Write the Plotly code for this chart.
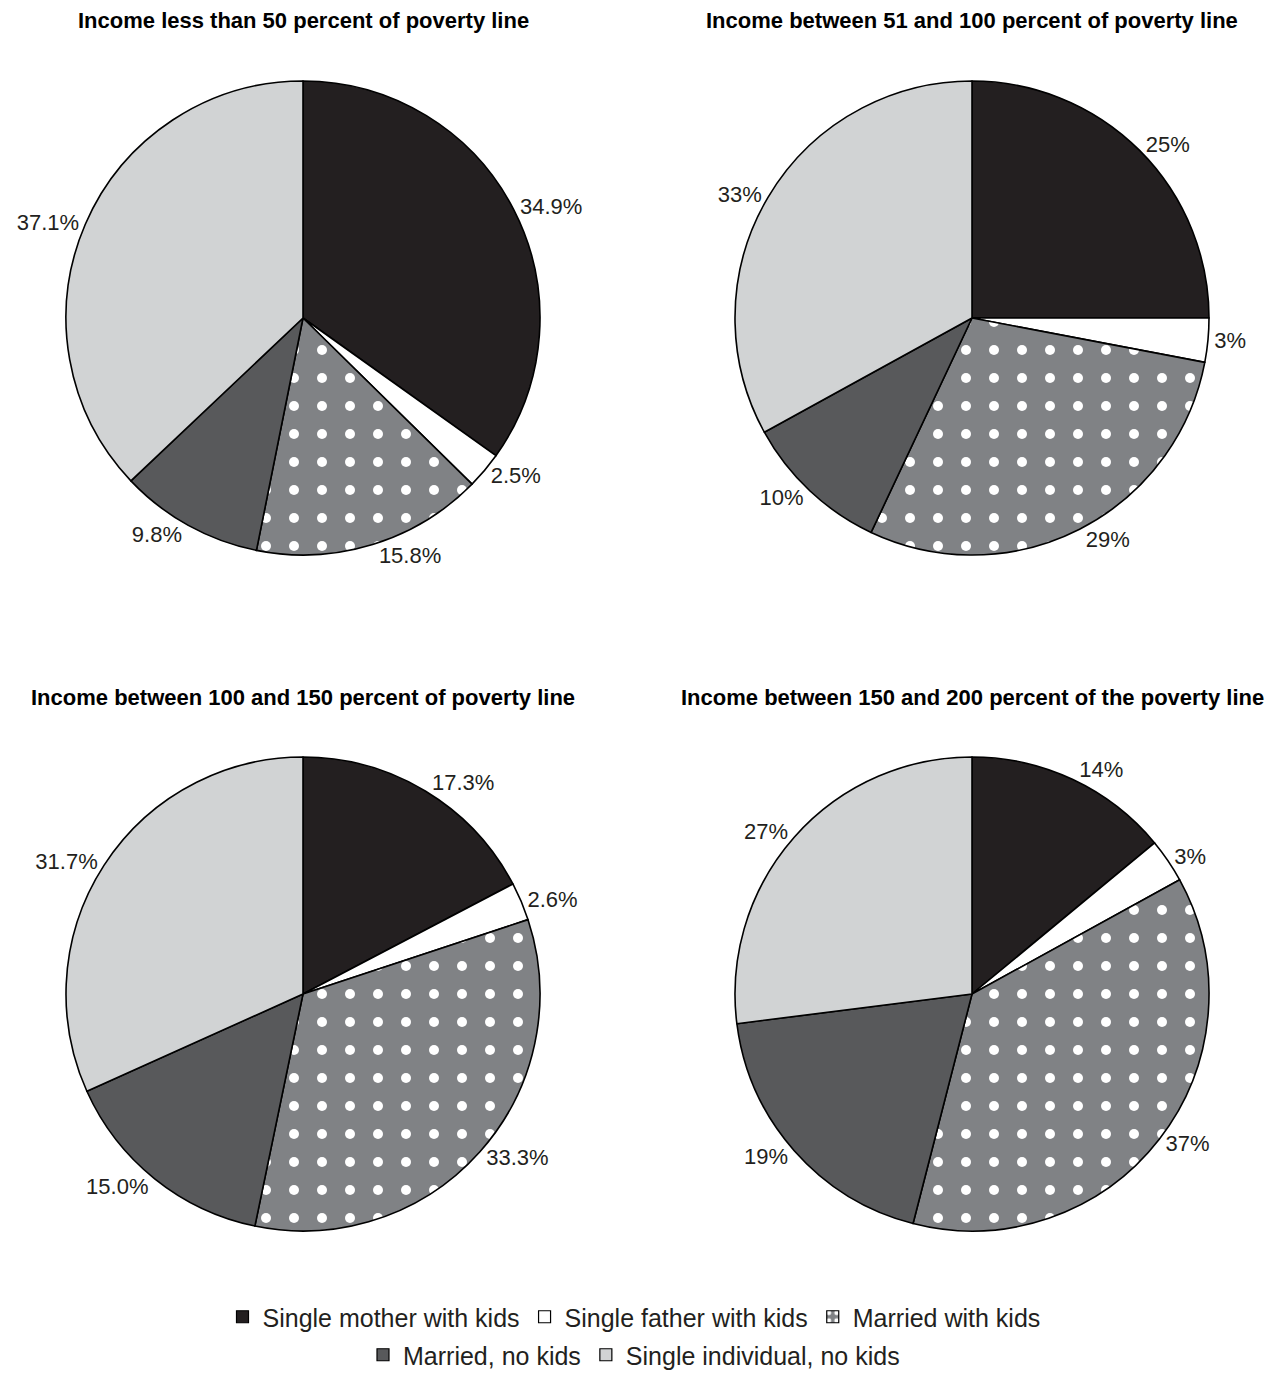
import plotly.graph_objects as go

W, H = 1268, 1378

categories = ["Single mother with kids", "Single father with kids", "Married with kids",
              "Married, no kids", "Single individual, no kids"]
titles = ["Income less than 50 percent of poverty line",
          "Income between 51 and 100 percent of poverty line",
          "Income between 100 and 150 percent of poverty line",
          "Income between 150 and 200 percent of the poverty line"]
vals_lt50 = [34.9, 2.5, 15.8, 9.8, 37.1]
vals_51_100 = [25, 3, 29, 10, 33]
vals_100_150 = [17.3, 2.6, 33.3, 15.0, 31.7]
vals_150_200 = [14, 3, 37, 19, 27]
labels_lt50 = ["34.9%", "2.5%", "15.8%", "9.8%", "37.1%"]
labels_51_100 = ["25%", "3%", "29%", "10%", "33%"]
labels_100_150 = ["17.3%", "2.6%", "33.3%", "15.0%", "31.7%"]
labels_150_200 = ["14%", "3%", "37%", "19%", "27%"]

colors = ["#231f20", "#ffffff", "#808285", "#58595b", "#d1d3d4"]
shapes = ["", "", ".", "", ""]
FONT = "Arial, Liberation Sans, sans-serif"

centers = [(303, 318), (972, 318), (303, 994), (972, 994)]
R = 237
series = [(vals_lt50, labels_lt50), (vals_51_100, labels_51_100),
          (vals_100_150, labels_100_150), (vals_150_200, labels_150_200)]


def dom(cx, cy, r):
    return dict(x=[(cx - r) / W, (cx + r) / W], y=[1 - (cy + r) / H, 1 - (cy - r) / H])


def pattern():
    return dict(shape=shapes, bgcolor=colors, fgcolor=["#ffffff"] * 5,
                fgopacity=1, size=28, solidity=0.1)


fig = go.Figure()

# legend-only helper pies (tiny, hidden under pie centre)
cx0, cy0 = centers[0]
tiny = dict(x=[cx0 / W, (cx0 + 0.1) / W], y=[1 - (cy0 + 0.1) / H, 1 - cy0 / H])
fig.add_trace(go.Pie(labels=categories[:3], values=[1, 1, 1], sort=False, direction="clockwise",
                     marker=dict(colors=colors[:3], line=dict(color="#000000", width=1.2),
                                 pattern=dict(shape=shapes[:3], bgcolor=colors[:3],
                                              fgcolor=["#ffffff"] * 3, fgopacity=1, size=8, solidity=0.3)),
                     textinfo="none", hoverinfo="skip", domain=tiny, legend="legend", showlegend=True))
fig.add_trace(go.Pie(labels=categories[3:], values=[1, 1], sort=False, direction="clockwise",
                     marker=dict(colors=colors[3:], line=dict(color="#000000", width=1.2)),
                     textinfo="none", hoverinfo="skip", domain=tiny, legend="legend2", showlegend=True))

for (vals, labs), (cx, cy) in zip(series, centers):
    fig.add_trace(go.Pie(
        labels=categories, values=vals, text=labs, texttemplate="%{text}",
        textposition="outside", sort=False, direction="clockwise", rotation=0,
        marker=dict(colors=colors, line=dict(color="#000000", width=1.6), pattern=pattern()),
        outsidetextfont=dict(family=FONT, size=22, color="#231f20"),
        domain=dom(cx, cy, R), showlegend=False, hoverinfo="label+text"))

for t, (cx, cy) in zip(titles, centers):
    fig.add_annotation(text="<b>" + t + "</b>", x=cx / W, y=1 - (21 if cy < 600 else 697) / H,
                       xref="paper", yref="paper", showarrow=False, xanchor="center", yanchor="middle",
                       font=dict(family=FONT, size=22, color="#000000"))

fig.update_layout(
    width=W, height=H, margin=dict(l=0, r=0, t=0, b=0),
    paper_bgcolor="white", plot_bgcolor="white",
    font=dict(family=FONT, color="#231f20"),
    legend=dict(orientation="h", x=0.5, xanchor="center", y=1 - 1317 / H, yanchor="middle",
                font=dict(family=FONT, size=25, color="#231f20"), itemclick=False, itemdoubleclick=False),
    legend2=dict(orientation="h", x=0.5, xanchor="center", y=1 - 1355 / H, yanchor="middle",
                 font=dict(family=FONT, size=25, color="#231f20"), itemclick=False, itemdoubleclick=False),
)

fig.write_html("out.html")
